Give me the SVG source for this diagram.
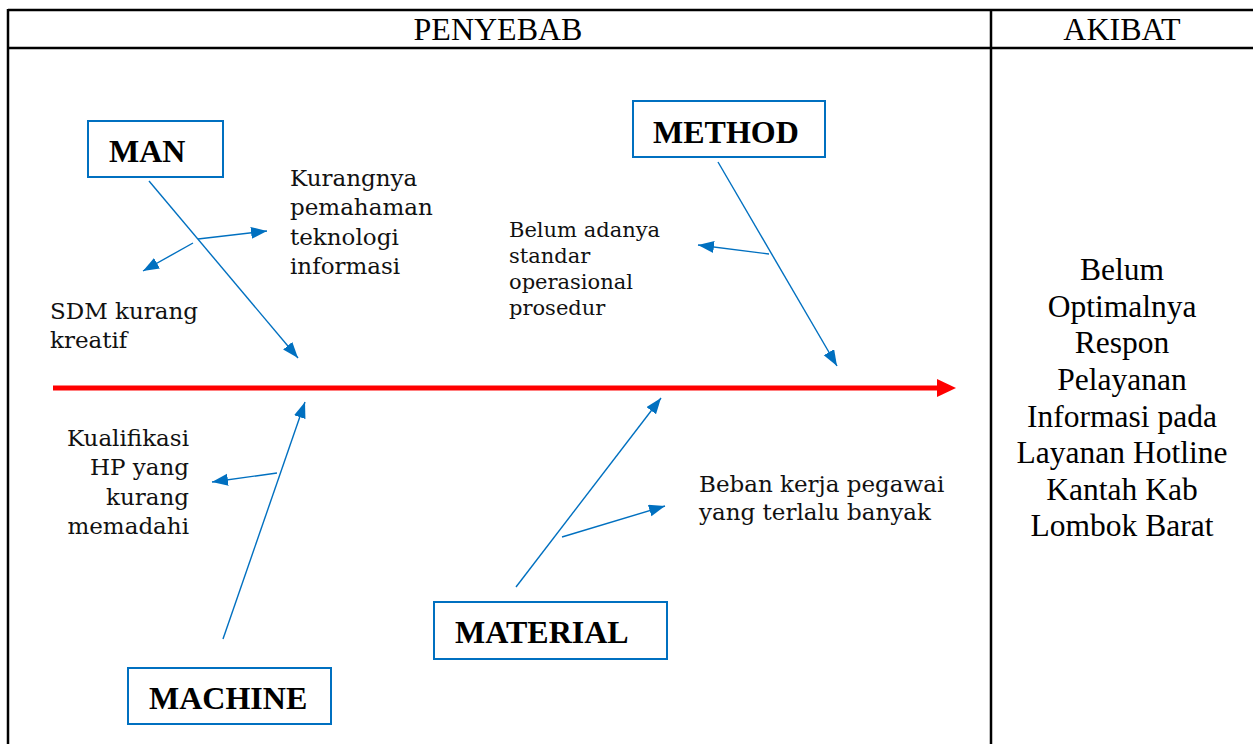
<svg xmlns="http://www.w3.org/2000/svg" width="1253" height="744" viewBox="0 0 1253 744">
<style>
.grid{stroke:#000;stroke-width:2.5;fill:none}
.hdr{font-family:"Liberation Serif","Times New Roman",serif;font-size:32px;fill:#000}
.box{fill:#fff;stroke:#0070C0;stroke-width:2}
.lbl{font-family:"Liberation Serif","Times New Roman",serif;font-size:32px;font-weight:bold;fill:#000}
.cause{font-family:"DejaVu Serif","Liberation Serif",serif;font-size:23px;fill:#111}
.small{font-size:21px}
.eff{font-family:"Liberation Serif","Times New Roman",serif;font-size:31.5px;fill:#000}
.bl{stroke:#0070C0;stroke-width:1.4;fill:none;marker-end:url(#ah)}
</style>
<defs>
<marker id="ah" markerUnits="userSpaceOnUse" markerWidth="18" markerHeight="14" refX="16" refY="6" orient="auto">
<path d="M0,0 L16,6 L0,12 Z" fill="#0070C0"/>
</marker>
</defs>
<rect width="1253" height="744" fill="#fff"/>
<g id="table">
<line class="grid" x1="8" y1="10" x2="1253" y2="10"/>
<line class="grid" x1="8" y1="48" x2="1253" y2="48"/>
<line class="grid" x1="8" y1="9" x2="8" y2="744"/>
<line class="grid" x1="991" y1="9" x2="991" y2="744"/>
<text class="hdr" x="498" y="40" text-anchor="middle">PENYEBAB</text>
<text class="hdr" x="1122" y="40" text-anchor="middle">AKIBAT</text>
</g>
<g id="spine">
<line x1="53" y1="388" x2="940" y2="388" stroke="#FF0000" stroke-width="5"/>
<polygon points="937,379 956,388 937,397" fill="#FF0000"/>
</g>
<g id="connectors">
<line class="bl" x1="149" y1="181" x2="298" y2="358"/>
<line class="bl" x1="193" y1="243" x2="143" y2="271"/>
<line class="bl" x1="198" y1="239" x2="267" y2="231"/>
<line class="bl" x1="718" y1="162" x2="837" y2="366"/>
<line class="bl" x1="769" y1="254" x2="698" y2="245"/>
<line class="bl" x1="223" y1="639" x2="305" y2="402"/>
<line class="bl" x1="277" y1="473" x2="212" y2="482"/>
<line class="bl" x1="516" y1="587" x2="661" y2="398"/>
<line class="bl" x1="562" y1="537" x2="665" y2="506"/>
</g>
<g id="man">
<rect class="box" x="88" y="121" width="135" height="56"/>
<text class="lbl" x="109" y="162">MAN</text>
</g>
<g id="method">
<rect class="box" x="633" y="101" width="192" height="56"/>
<text class="lbl" x="653" y="143">METHOD</text>
</g>
<g id="machine">
<rect class="box" x="128" y="668" width="203" height="56"/>
<text class="lbl" x="149" y="709">MACHINE</text>
</g>
<g id="material">
<rect class="box" x="434" y="602" width="233" height="57"/>
<text class="lbl" x="455" y="643">MATERIAL</text>
</g>
<g id="cause-man-1">
<text class="cause" x="290" y="186">Kurangnya</text>
<text class="cause" x="290" y="215">pemahaman</text>
<text class="cause" x="290" y="245">teknologi</text>
<text class="cause" x="290" y="274">informasi</text>
</g>
<g id="cause-man-2">
<text class="cause" x="50" y="319">SDM kurang</text>
<text class="cause" x="50" y="348">kreatif</text>
</g>
<g id="cause-method">
<text class="cause small" x="509" y="237">Belum adanya</text>
<text class="cause small" x="509" y="263">standar</text>
<text class="cause small" x="509" y="289">operasional</text>
<text class="cause small" x="509" y="315">prosedur</text>
</g>
<g id="cause-machine">
<text class="cause" x="189" y="446" text-anchor="end">Kualifikasi</text>
<text class="cause" x="189" y="475" text-anchor="end">HP yang</text>
<text class="cause" x="189" y="505" text-anchor="end">kurang</text>
<text class="cause" x="189" y="534" text-anchor="end">memadahi</text>
</g>
<g id="cause-material">
<text class="cause" x="699" y="492">Beban kerja pegawai</text>
<text class="cause" x="699" y="520">yang terlalu banyak</text>
</g>
<g id="effect">
<text class="eff" x="1122" y="280" text-anchor="middle">Belum</text>
<text class="eff" x="1122" y="317" text-anchor="middle">Optimalnya</text>
<text class="eff" x="1122" y="353" text-anchor="middle">Respon</text>
<text class="eff" x="1122" y="390" text-anchor="middle">Pelayanan</text>
<text class="eff" x="1122" y="427" text-anchor="middle">Informasi pada</text>
<text class="eff" x="1122" y="463" text-anchor="middle">Layanan Hotline</text>
<text class="eff" x="1122" y="500" text-anchor="middle">Kantah Kab</text>
<text class="eff" x="1122" y="536" text-anchor="middle">Lombok Barat</text>
</g>
</svg>
